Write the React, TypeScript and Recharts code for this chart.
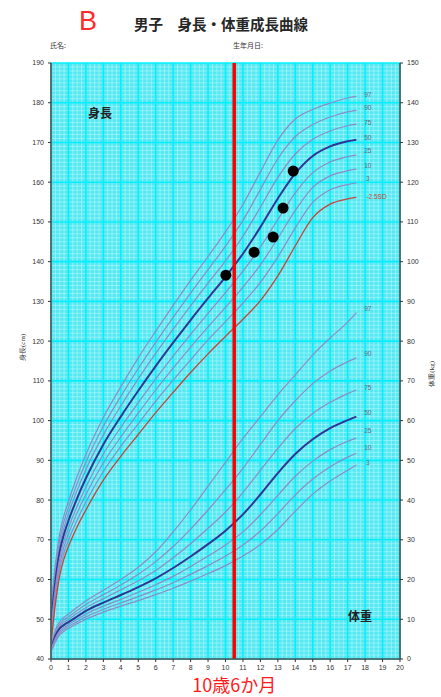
import { CartesianGrid, ComposedChart, Line, ReferenceLine, Scatter, XAxis, YAxis } from 'recharts';

// ages (years) at which the reference curves are read
const ages = [0, 0.1, 0.25, 0.5, 0.75, 1, 1.5, 2, 3, 4, 5, 6, 7, 8, 9, 10, 11, 12, 13, 14, 15, 16, 17, 17.5];

// height percentiles (cm)
const h97 = [52.9, 57.6, 63.8, 71.5, 76.2, 79.7, 86.0, 91.5, 100.8, 108.5, 115.8, 122.5, 129.0, 135.3, 141.3, 147.5, 154.4, 162.6, 170.6, 175.9, 178.3, 179.9, 181.2, 181.6];
const h90 = [51.7, 56.3, 62.4, 70.1, 74.7, 78.1, 84.2, 89.6, 98.6, 106.1, 113.1, 119.7, 126.0, 132.1, 138.0, 143.9, 150.4, 158.2, 165.9, 171.5, 174.5, 176.4, 177.7, 178.1];
const h75 = [50.4, 55.0, 61.1, 68.6, 73.2, 76.6, 82.5, 87.7, 96.4, 103.7, 110.5, 116.9, 123.0, 128.9, 134.6, 140.2, 146.4, 153.7, 161.2, 167.1, 170.8, 172.9, 174.2, 174.6];
const h50 = [49.0, 53.5, 59.5, 67.0, 71.5, 74.8, 80.5, 85.5, 94.0, 101.0, 107.5, 113.7, 119.6, 125.3, 130.8, 136.2, 142.0, 148.7, 155.9, 162.2, 166.6, 169.0, 170.3, 170.7];
const h25 = [47.6, 52.0, 57.9, 65.4, 69.8, 73.0, 78.5, 83.3, 91.6, 98.3, 104.5, 110.5, 116.2, 121.7, 127.0, 132.2, 137.6, 143.7, 150.6, 157.3, 162.4, 165.1, 166.4, 166.8];
const h10 = [46.3, 50.7, 56.6, 63.9, 68.3, 71.5, 76.8, 81.4, 89.4, 95.9, 101.9, 107.7, 113.2, 118.5, 123.6, 128.5, 133.6, 139.2, 145.9, 152.9, 158.7, 161.6, 162.9, 163.3];
const h3 = [45.1, 49.4, 55.2, 62.5, 66.8, 69.9, 75.0, 79.5, 87.2, 93.5, 99.2, 104.9, 110.2, 115.3, 120.3, 124.9, 129.6, 134.8, 141.2, 148.5, 154.9, 158.1, 159.4, 159.8];
const hSD = [43.8, 48.0, 53.8, 61.0, 65.3, 68.3, 73.3, 77.5, 85.0, 91.0, 96.5, 102.0, 107.1, 112.1, 116.8, 121.2, 125.5, 130.2, 136.4, 144.0, 151.1, 154.5, 155.8, 156.2];

// weight percentiles (kg)
const w97 = [3.8, 5.0, 7.3, 9.4, 10.5, 11.3, 13.0, 14.6, 17.3, 20.0, 23.1, 27.0, 32.0, 37.5, 43.5, 49.5, 55.5, 61.0, 66.5, 71.5, 76.5, 80.8, 84.8, 87.2];
const w90 = [3.6, 4.6, 6.8, 8.8, 9.9, 10.6, 12.2, 13.7, 16.2, 18.6, 21.3, 24.5, 28.3, 32.7, 37.5, 42.6, 48.0, 54.0, 60.0, 65.0, 69.3, 72.5, 74.8, 75.8];
const w75 = [3.3, 4.3, 6.3, 8.3, 9.3, 10.0, 11.5, 12.9, 15.2, 17.4, 19.7, 22.3, 25.5, 29.0, 32.9, 37.0, 41.9, 47.5, 53.0, 58.0, 61.8, 64.6, 66.8, 67.7];
const w50 = [3.0, 3.9, 5.8, 7.7, 8.6, 9.3, 10.7, 12.1, 14.2, 16.1, 18.1, 20.3, 22.9, 25.8, 28.9, 32.3, 36.4, 41.4, 46.8, 51.6, 55.3, 58.1, 60.1, 61.0];
const w25 = [2.8, 3.6, 5.3, 7.1, 8.0, 8.7, 10.0, 11.3, 13.3, 15.0, 16.8, 18.7, 20.8, 23.3, 25.9, 28.7, 32.0, 36.3, 41.2, 46.0, 49.8, 52.7, 54.8, 55.6];
const w10 = [2.5, 3.2, 4.8, 6.6, 7.5, 8.2, 9.4, 10.6, 12.5, 14.1, 15.7, 17.4, 19.2, 21.3, 23.5, 25.9, 28.7, 32.2, 36.6, 41.3, 45.3, 48.4, 50.8, 51.8];
const w3 = [2.1, 2.8, 4.3, 6.1, 7.0, 7.7, 8.9, 10.0, 11.8, 13.3, 14.7, 16.2, 17.8, 19.6, 21.5, 23.5, 25.9, 28.8, 32.6, 37.2, 41.5, 44.8, 47.5, 48.8];

// the child's measurements
const dotAges = [10.02, 11.64, 12.73, 13.3, 13.88];
const dotHeights = [136.6, 142.4, 146.2, 153.5, 162.8];

const ageTicks = [0, 1, 2, 3, 4, 5, 6, 7, 8, 9, 10, 11, 12, 13, 14, 15, 16, 17, 18, 19, 20];
const heightTicks = [40, 50, 60, 70, 80, 90, 100, 110, 120, 130, 140, 150, 160, 170, 180, 190];
const weightTicks = [0, 10, 20, 30, 40, 50, 60, 70, 80, 90, 100, 110, 120, 130, 140, 150];
const markAge = 10.5;

// fine mesh of the graph paper
const meshAges = Array.from({ length: 81 }, (_, i) => i * 0.25);
const meshHeights = Array.from({ length: 151 }, (_, i) => 40 + i);

const rows = ages.map((age, i) => ({
  age,
  h97: h97[i], h90: h90[i], h75: h75[i], h50: h50[i], h25: h25[i], h10: h10[i], h3: h3[i], hSD: hSD[i],
  w97: w97[i], w90: w90[i], w75: w75[i], w50: w50[i], w25: w25[i], w10: w10[i], w3: w3[i],
}));
const dots = dotAges.map((age, i) => ({ age, h: dotHeights[i] }));

const PCT = '#8b8ec6';
const MID = '#2f3796';
const SD = '#c4463a';

const series = [
  { key: 'h97', axis: 'h', text: '97', color: PCT, width: 1.2, dy: 1 },
  { key: 'h90', axis: 'h', text: '90', color: PCT, width: 1.2, dy: 0 },
  { key: 'h75', axis: 'h', text: '75', color: PCT, width: 1.2, dy: 1 },
  { key: 'h50', axis: 'h', text: '50', color: MID, width: 2, dy: 0 },
  { key: 'h25', axis: 'h', text: '25', color: PCT, width: 1.2, dy: -2.5 },
  { key: 'h10', axis: 'h', text: '10', color: PCT, width: 1.2, dy: -1 },
  { key: 'h3', axis: 'h', text: '3', color: PCT, width: 1.2, dy: -1.5 },
  { key: 'hSD', axis: 'h', text: '-2.5SD', color: SD, width: 1.3, dy: 2 },
  { key: 'w97', axis: 'w', text: '97', color: PCT, width: 1.2, dy: -2 },
  { key: 'w90', axis: 'w', text: '90', color: PCT, width: 1.2, dy: -1.5 },
  { key: 'w75', axis: 'w', text: '75', color: PCT, width: 1.2, dy: 0 },
  { key: 'w50', axis: 'w', text: '50', color: MID, width: 2, dy: -1.5 },
  { key: 'w25', axis: 'w', text: '25', color: PCT, width: 1.2, dy: -5.5 },
  { key: 'w10', axis: 'w', text: '10', color: PCT, width: 1.2, dy: -3.5 },
  { key: 'w3', axis: 'w', text: '3', color: PCT, width: 1.2, dy: 0 },
];

const endLabel = (key: string, text: string, dy: number) => (p: any) => {
  const last = (rows[rows.length - 1] as any)[key];
  const isLast = p.index != null ? p.index === rows.length - 1 : p.value === last;
  if (!isLast) return null;
  const x = p.x ?? p.viewBox?.x;
  const y = p.y ?? p.viewBox?.y;
  if (x == null || y == null) return null;
  const sd = text.startsWith('-');
  return (
    <text key={key} x={x + (sd ? 10 : 11.5)} y={y + dy} fontSize={6.5} fill={sd ? SD : '#6a6a80'}
      textAnchor={sd ? 'start' : 'middle'} fontFamily="Liberation Sans, Arial">
      {text}
    </text>
  );
};

const tickStyle = { fontSize: 7, fill: '#333', fontFamily: 'Liberation Sans, Arial' };

export default function App() {
  return (
    <div style={{ position: 'absolute', left: 0, top: 0, width: 441, height: 697, background: '#fff' }}>
      <ComposedChart width={441} height={697} data={rows} margin={{ top: 63, right: 9, bottom: 18, left: 10 }}>
        <CartesianGrid
          yAxisId="h"
          fill="#55e8f2"
          fillOpacity={1}
          stroke="#bdf9fc"
          strokeWidth={0.55}
          horizontalValues={meshHeights}
          verticalValues={meshAges}
        />
        <CartesianGrid
          yAxisId="h"
          stroke="#00f0fd"
          strokeWidth={1.6}
          horizontalValues={heightTicks}
          verticalValues={ageTicks}
        />
        <XAxis
          type="number"
          dataKey="age"
          domain={[0, 20]}
          ticks={ageTicks}
          interval={0}
          allowDataOverflow
          height={20}
          tick={tickStyle}
          tickSize={3}
          tickMargin={3}
          axisLine={{ stroke: '#555', strokeWidth: 1.6 }}
          tickLine={{ stroke: '#333' }}
        />
        <YAxis
          yAxisId="h"
          orientation="left"
          type="number"
          domain={[40, 190]}
          ticks={heightTicks}
          interval={0}
          allowDataOverflow
          width={41}
          tick={tickStyle}
          tickSize={3}
          tickMargin={4}
          axisLine={{ stroke: '#555', strokeWidth: 1.6 }}
          tickLine={{ stroke: '#333' }}
          label={{ value: '身長(cm)', angle: -90, position: 'insideLeft', offset: 13, fontSize: 7, fill: '#333' }}
        />
        <YAxis
          yAxisId="w"
          orientation="right"
          type="number"
          domain={[0, 150]}
          ticks={weightTicks}
          interval={0}
          allowDataOverflow
          width={32}
          tick={tickStyle}
          tickSize={3}
          tickMargin={4}
          axisLine={{ stroke: '#555', strokeWidth: 1.6 }}
          tickLine={{ stroke: '#333' }}
          label={{ value: '体重(kg)', angle: -90, position: 'insideRight', offset: 0, fontSize: 7, fill: '#333' }}
        />
        {series.map((s) => (
          <Line
            key={s.key}
            yAxisId={s.axis}
            dataKey={s.key}
            type="monotone"
            stroke={s.color}
            strokeWidth={s.width}
            dot={false}
            activeDot={false}
            isAnimationActive={false}
            label={endLabel(s.key, s.text, s.dy)}
          />
        ))}
        <ReferenceLine
          x={markAge}
          yAxisId="h"
          stroke="#ff0000"
          strokeWidth={3.5}
          label={{ value: '10歳6か月', position: 'bottom', offset: 20, fill: '#ff1a1a', fontSize: 18, fontFamily: 'Noto Sans CJK JP' }}
        />
        <Scatter
          data={dots}
          yAxisId="h"
          dataKey="h"
          fill="#000"
          isAnimationActive={false}
          shape={(p: any) => <circle cx={p.cx} cy={p.cy} r={5.5} fill="#000" />}
        />
      </ComposedChart>
      <svg width={441} height={697} style={{ position: 'absolute', left: 0, top: 0, pointerEvents: 'none' }}>
        <text x={88} y={30} fontSize={27} fill="#ff2a2a" textAnchor="middle" fontFamily="Liberation Sans, Arial">B</text>
        <text x={221} y={30} fontSize={14.5} fontWeight="bold" fill="#262626" textAnchor="middle" fontFamily="Noto Sans CJK JP">男子　身長・体重成長曲線</text>
        <text x={50} y={48} fontSize={7} fill="#333" fontFamily="Noto Sans CJK JP">氏名:</text>
        <text x={233} y={48} fontSize={7} fill="#333" fontFamily="Noto Sans CJK JP">生年月日:</text>
        <text x={100} y={118} fontSize={12} fontWeight="bold" fill="#222" textAnchor="middle" fontFamily="Noto Sans CJK JP">身長</text>
        <text x={360} y={621} fontSize={12} fontWeight="bold" fill="#222" textAnchor="middle" fontFamily="Noto Sans CJK JP">体重</text>
      </svg>
    </div>
  );
}
